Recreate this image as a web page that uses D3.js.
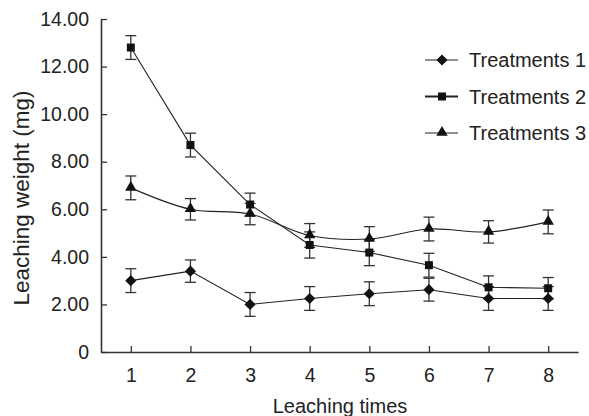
<!doctype html>
<html>
  <head>
    <script src="https://cdnjs.cloudflare.com/ajax/libs/d3/7.8.5/d3.min.js"></script>
    <style>
      body { margin: 0; background: #fff; }
      text { font-family: "Liberation Sans", Arial, sans-serif; fill: #222; }
    </style>
  </head>
  <body>
    <svg></svg>
    <script>
      var width = 589,
          height = 416;

      // data
      var times = [1, 2, 3, 4, 5, 6, 7, 8];
      var seriesNames = ["Treatments 1", "Treatments 2", "Treatments 3"];
      var t1 = [3.0, 3.4, 2.0, 2.25, 2.45, 2.62, 2.25, 2.25];
      var t1Err = [0.5, 0.47, 0.5, 0.5, 0.5, 0.48, 0.5, 0.5];
      var t2 = [12.8, 8.7, 6.2, 4.5, 4.18, 3.65, 2.72, 2.68];
      var t2Err = [0.5, 0.5, 0.48, 0.55, 0.55, 0.5, 0.48, 0.45];
      var t3 = [6.9, 6.0, 5.8, 4.9, 4.75, 5.17, 5.05, 5.47];
      var t3Err = [0.5, 0.45, 0.45, 0.5, 0.52, 0.5, 0.47, 0.5];
      var yTicks = [0, 2, 4, 6, 8, 10, 12, 14];

      var series = [
        {name: seriesNames[0], values: t1, err: t1Err, symbol: "diamond", smooth: false},
        {name: seriesNames[1], values: t2, err: t2Err, symbol: "square", smooth: false},
        {name: seriesNames[2], values: t3, err: t3Err, symbol: "triangle", smooth: true}
      ];

      var svg = d3.select("svg").attr("width", width).attr("height", height);

      var x = d3.scaleLinear().domain([0.5, 8.5]).range([101, 578]);
      var y = d3.scaleLinear().domain([0, 14]).range([352, 19]);

      // axes
      var yAxis = d3.axisLeft(y)
          .tickValues(yTicks)
          .tickSizeInner(-6)
          .tickSizeOuter(0)
          .tickPadding(12)
          .tickFormat(d => d === 0 ? "0" : d.toFixed(2));
      var gy = svg.append("g").attr("transform", "translate(" + x.range()[0] + ",0)").call(yAxis);

      var xAxis = d3.axisBottom(x)
          .tickValues(times)
          .tickSizeInner(-6)
          .tickSizeOuter(0)
          .tickPadding(16)
          .tickFormat(d3.format("d"));
      var gx = svg.append("g").attr("transform", "translate(0," + y.range()[0] + ")").call(xAxis);

      [gx, gy].forEach(g => {
        g.select(".domain").attr("stroke", "#333").attr("stroke-width", 1.6);
        g.selectAll(".tick line").attr("stroke", "#333").attr("stroke-width", 1.3);
        g.selectAll("text").attr("font-size", "19.5px").attr("fill", "#222")
          .style("font-family", '"Liberation Sans", Arial, sans-serif');
      });

      // axis titles
      svg.append("text")
          .attr("x", 340).attr("y", 413)
          .attr("text-anchor", "middle")
          .attr("font-size", "20px")
          .text("Leaching times");
      svg.append("text")
          .attr("transform", "translate(29,198) rotate(-90)")
          .attr("text-anchor", "middle")
          .attr("font-size", "22.5px")
          .text("Leaching weight (mg)");

      function symbolPath(kind) {
        if (kind === "diamond") return d3.symbol(d3.symbolSquare, 62)();
        if (kind === "square") return d3.symbol(d3.symbolSquare, 64)();
        return d3.symbol(d3.symbolTriangle, 56)();
      }
      function symbolTransform(kind, px, py) {
        if (kind === "diamond") return "translate(" + px + "," + py + ") rotate(45)";
        if (kind === "triangle") return "translate(" + px + "," + (py - 0.5) + ")";
        return "translate(" + px + "," + py + ")";
      }

      var line = d3.line()
          .x((d, i) => x(times[i]))
          .y(d => y(d));

      // lines
      svg.selectAll(".series-line").data(series)
        .enter()
        .append("path")
          .attr("class", "series-line")
          .attr("d", d => line.curve(d.smooth ? d3.curveCatmullRom.alpha(0.5) : d3.curveLinear)(d.values))
          .attr("fill", "none")
          .attr("stroke", "#222")
          .attr("stroke-width", 1.1);

      // error bars
      series.forEach(s => {
        var g = svg.append("g");
        s.values.forEach((v, i) => {
          var cx = x(times[i]);
          var top = y(v + s.err[i]), bot = y(v - s.err[i]);
          g.append("line").attr("x1", cx).attr("x2", cx).attr("y1", top).attr("y2", bot);
          g.append("line").attr("x1", cx - 5.5).attr("x2", cx + 5.5).attr("y1", top).attr("y2", top);
          g.append("line").attr("x1", cx - 5.5).attr("x2", cx + 5.5).attr("y1", bot).attr("y2", bot);
        });
        g.selectAll("line").attr("stroke", "#333").attr("stroke-width", 1.3);
      });

      // markers
      series.forEach(s => {
        svg.append("g").selectAll("path").data(s.values)
          .enter()
          .append("path")
            .attr("d", symbolPath(s.symbol))
            .attr("transform", (d, i) => symbolTransform(s.symbol, x(times[i]), y(d)))
            .attr("fill", "#111");
      });

      // legend
      var legend = svg.append("g").selectAll("g").data(series)
        .enter()
        .append("g")
          .attr("transform", (d, i) => "translate(425," + (60 + i * 36.5) + ")");
      legend.append("line")
          .attr("x1", 0).attr("x2", 33)
          .attr("stroke", "#222")
          .attr("stroke-width", (d, i) => i === 1 ? 2 : 1.1);
      legend.append("path")
          .attr("d", d => symbolPath(d.symbol))
          .attr("transform", d => symbolTransform(d.symbol, 17, 0))
          .attr("fill", "#111");
      legend.append("text")
          .attr("x", 44)
          .attr("dy", "0.36em")
          .attr("font-size", "20px")
          .text(d => d.name);
    </script>
  </body>
</html>
